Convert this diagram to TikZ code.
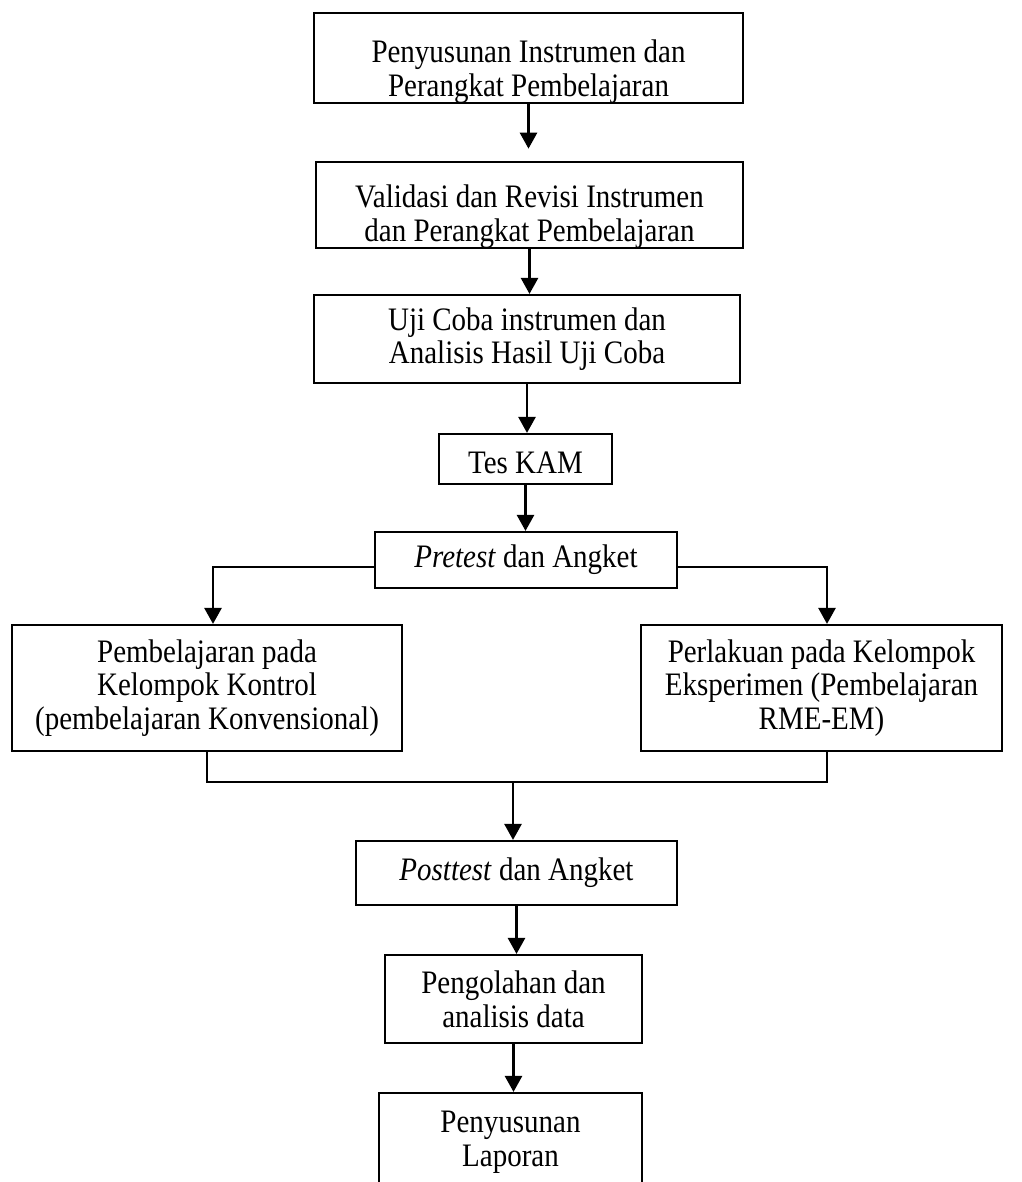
\documentclass[tikz,border=0pt]{standalone}
\usepackage{fontspec}
\setmainfont{Liberation Serif}
\usetikzlibrary{arrows.meta}
\newcommand{\teks}{\fontsize{16.5}{17}\selectfont}

\begin{document}
\begin{tikzpicture}[x=0.02cm, y=-0.02cm,
    kotak/.style 2 args={draw, line width=1.1pt, yscale=1.13, inner sep=0pt,
      minimum width=#1*0.02cm, minimum height=#2*0.0177cm, align=center, font=\teks},
    panah/.style={line width=1.5pt, -{Triangle[length=0.32cm, width=0.34cm]}},
    garis/.style={line width=1.1pt}]
    \useasboundingbox (0,0) rectangle (1021,1182);
    \clip (0,0) rectangle (1021,1182);

    \node[kotak={429}{90}] (susun) at (528.5,58) {\rule{0pt}{25pt}Penyusunan Instrumen dan\\Perangkat Pembelajaran};
    \node[kotak={427}{84}] (valid) at (529.5,205) {\rule{0pt}{23pt}Validasi dan Revisi Instrumen\\dan Perangkat Pembelajaran};
    \node[kotak={426}{88}] (uji) at (527,339) {Uji Coba instrumen dan\\Analisis Hasil Uji Coba};
    \node[kotak={173}{50}] (kam) at (525.5,459) {\rule{0pt}{15pt}Tes KAM};
    \node[kotak={302}{56}] (pre) at (526,560) {\textit{Pretest} dan Angket};
    \node[kotak={390}{126}] (kontrol) at (207,688) {Pembelajaran pada\\Kelompok Kontrol\\(pembelajaran Konvensional)};
    \node[kotak={361}{126}] (eksp) at (821.5,688) {Perlakuan pada Kelompok\\Eksperimen (Pembelajaran\\RME-EM)};
    \node[kotak={321}{64}] (post) at (516.5,873) {\textit{Posttest} dan Angket};
    \node[kotak={257}{88}] (olah) at (513.5,999) {Pengolahan dan\\analisis data};
    \node[kotak={263}{99}] (lapor) at (510.5,1142.5) {Penyusunan\\Laporan};

    % alur utama
    \draw[panah, shorten >=0.24cm] (susun.south) -- (susun.south |- valid.north);
    \foreach \a/\b in {valid/uji, uji/kam, kam/pre, post/olah, olah/lapor}
        \draw[panah] (\a.south) -- (\a.south |- \b.north);

    % percabangan
    \draw[panah] ([yshift=-0.14cm]pre.west) -| ([xshift=0.12cm]kontrol.north);
    \draw[panah] ([yshift=-0.14cm]pre.east) -| ([xshift=0.11cm]eksp.north);

    % penggabungan
    \coordinate (gabung) at (513,782);
    \draw[garis] (kontrol.south) |- (gabung) -| ([xshift=0.11cm]eksp.south);
    \draw[panah] (gabung) -- (gabung |- post.north);
\end{tikzpicture}
\end{document}
